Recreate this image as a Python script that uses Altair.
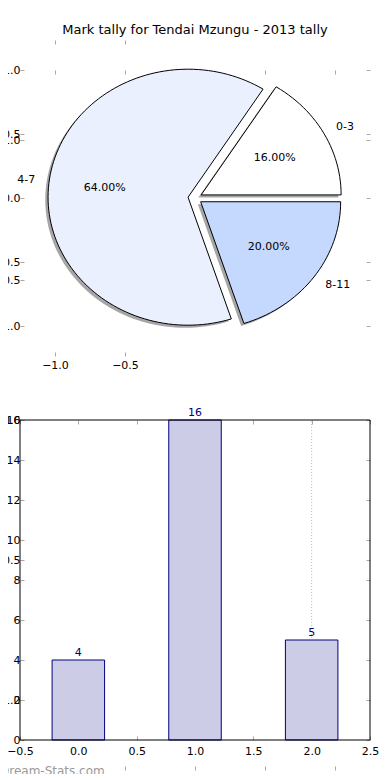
import math
import altair as alt
import pandas as pd

# ---------------- data ----------------
TITLE = "Mark tally for Tendai Mzungu - 2013 tally"
slice_labels = ["0-3", "4-7", "8-11"]
slice_values = [4, 16, 5]
slice_colors = ["#ffffff", "#eaf0fd", "#c5d8fe"]
slice_explode = [0.05, 0.05, 0.05]

bar_positions = [0, 1, 2]
bar_values = [4, 16, 5]
bar_text = ["4", "16", "5"]

pie_x_ticks = [-1.0, -0.5]
pie_y_ticks = [1.0, 0.5, 0.0, -0.5, -1.0]
ghost_x_ticks = [-1.0, -0.5, 0.0, 0.5, 1.0]
ghost_y_ticks = [1.0, 0.5, 0.0, -0.5, -1.0]
bar_x_ticks = [-0.5, 0.0, 0.5, 1.0, 1.5, 2.0, 2.5]
bar_y_ticks = [0, 2, 4, 6, 8, 10, 12, 14, 16]
bar_grid_x = [2.0]
watermark = ["Dream-Stats.com"]

# ---------------- geometry from the values ----------------
W, H = 350, 690
BAR_W = 0.45
total = sum(slice_values)
wedge_rows, shadow_rows, label_rows = [], [], []
start = 0.0
for lab, val, ex in zip(slice_labels, slice_values, slice_explode):
    span = 360.0 * val / total
    mid = math.radians(start + span / 2)
    cx, cy = ex * math.cos(mid), ex * math.sin(mid)
    n = max(int(span / 2), 4)
    pts = [(cx, cy)]
    for k in range(n + 1):
        a = math.radians(start + span * k / n)
        pts.append((cx + math.cos(a), cy + math.sin(a)))
    pts.append((cx, cy))
    for i, (px, py) in enumerate(pts):
        wedge_rows.append(dict(slice=lab, i=i, x=px, y=py))
        shadow_rows.append(dict(slice=lab, i=i, x=px - 0.02, y=py - 0.02))
    label_rows.append(dict(
        slice=lab,
        lx=cx + 1.1 * math.cos(mid), ly=cy + 1.1 * math.sin(mid),
        px=cx + 0.6 * math.cos(mid), py=cy + 0.6 * math.sin(mid),
        pct=f"{100 * val / total:.2f}%"))
    start += span

wedge_df = pd.DataFrame(wedge_rows)
shadow_df = pd.DataFrame(shadow_rows)
lab_df = pd.DataFrame(label_rows)
lab_right = lab_df[lab_df.lx >= 0]
lab_left = lab_df[lab_df.lx < 0]

ghost_df = pd.DataFrame({"gx": ghost_x_ticks, "gy": ghost_y_ticks})
pie_tick_df = pd.DataFrame({"v": pie_y_ticks})
bar_df = pd.DataFrame({"pos": bar_positions, "value": bar_values, "txt": bar_text})
bar_df["x0"] = bar_df.pos - BAR_W / 2
bar_df["x1"] = bar_df.pos + BAR_W / 2
frame_df = pd.DataFrame({"x0": [bar_x_ticks[0]], "x1": [bar_x_ticks[-1]],
                         "y0": [bar_y_ticks[0]], "y1": [bar_y_ticks[-1]]})
grid_df = pd.DataFrame({"x": bar_grid_x, "y0": [bar_y_ticks[0]], "y1": [bar_y_ticks[-1]]})
wm_df = pd.DataFrame({"t": watermark})

# ---------------- scales / axes ----------------
def sc(domain, rng):
    return alt.Scale(domain=domain, range=rng, zero=False, nice=False)

PX = ([-1.25, 1.25], [0, W])
PY = ([-1, 1], [256, 0])
GY = ([-1, 1], [630, 70])
BX = ([-0.5, 2.5], [0, W])
BY = ([0, 16], [670, 350])

TICK = "#a8a8a8"
FONT = "DejaVu Sans"
LEFT_PAD = 0


def axis(orient, values, offset, labels=False, fmt=".1f", pad=4):
    kw = dict(orient=orient, values=values, offset=offset, labels=labels, format=fmt,
              tickSize=4, tickColor=TICK, tickWidth=1, domain=False, grid=False, title=None)
    if labels:
        kw.update(labelFont=FONT, labelFontSize=11, labelColor="black", labelPadding=pad,
                  labelOverlap=False, labelFlush=False)
    return alt.Axis(**kw)

# ---------------- layers ----------------
ghostA = alt.Chart(ghost_df).mark_point(opacity=0).encode(
    x=alt.X("gx:Q", scale=sc(*PX), axis=axis("top", ghost_x_ticks, -4)),
    y=alt.Y("gy:Q", scale=sc(*GY), axis=axis("left", ghost_y_ticks, -4, labels=True, pad=LEFT_PAD)),
)
ghostB = alt.Chart(ghost_df).mark_point(opacity=0).encode(
    x=alt.X("gx:Q", scale=sc(*PX), axis=axis("bottom", ghost_x_ticks[1:], 6)),
    y=alt.Y("gy:Q", scale=sc(*GY), axis=axis("right", ghost_y_ticks, -4)),
)

pie_shadow = alt.Chart(shadow_df).mark_line(fill="#4d4d4d", fillOpacity=0.5, strokeWidth=0).encode(
    x=alt.X("x:Q", scale=sc(*PX), axis=None),
    y=alt.Y("y:Q", scale=sc(*PY), axis=None),
    detail="slice:N",
    order="i:Q",
)
pie_wedges = alt.Chart(wedge_df).mark_line(stroke="black", strokeWidth=1).encode(
    x=alt.X("x:Q", scale=sc(*PX), axis=axis("bottom", pie_x_ticks, -408, labels=True, pad=3)),
    y=alt.Y("y:Q", scale=sc(*PY), axis=axis("left", pie_y_ticks, -4, labels=True, pad=LEFT_PAD)),
    fill=alt.Fill("slice:N", scale=alt.Scale(domain=slice_labels, range=slice_colors), legend=None),
    detail="slice:N",
    order="i:Q",
)
pie_ticks = alt.Chart(pie_tick_df).mark_point(opacity=0).encode(
    x=alt.X("v:Q", scale=sc(*PX), axis=axis("top", pie_x_ticks, 26)),
    y=alt.Y("v:Q", scale=sc(*PY), axis=axis("right", pie_y_ticks, -4)),
)
txt = dict(font=FONT, fontSize=11, color="black", baseline="middle")
pie_lab_r = alt.Chart(lab_right).mark_text(align="left", **txt).encode(
    x=alt.X("lx:Q", scale=sc(*PX), axis=None), y=alt.Y("ly:Q", scale=sc(*PY), axis=None), text="slice:N")
pie_lab_l = alt.Chart(lab_left).mark_text(align="right", **txt).encode(
    x=alt.X("lx:Q", scale=sc(*PX), axis=None), y=alt.Y("ly:Q", scale=sc(*PY), axis=None), text="slice:N")
pie_pct = alt.Chart(lab_df).mark_text(align="center", **txt).encode(
    x=alt.X("px:Q", scale=sc(*PX), axis=None), y=alt.Y("py:Q", scale=sc(*PY), axis=None), text="pct:N")

bar_grid = alt.Chart(grid_df).mark_rule(color="#b8b8b8", strokeDash=[1, 2], strokeWidth=1).encode(
    x=alt.X("x:Q", scale=sc(*BX), axis=None),
    y=alt.Y("y0:Q", scale=sc(*BY), axis=None), y2="y1:Q")
bars = alt.Chart(bar_df).mark_rect(fill="#ccccE6", stroke="#000080", strokeWidth=1).encode(
    x=alt.X("x0:Q", scale=sc(*BX), axis=axis("bottom", bar_x_ticks, -24, labels=True, pad=5)),
    x2="x1:Q",
    y=alt.Y("value:Q", scale=sc(*BY), axis=axis("left", bar_y_ticks, -4, labels=True, fmt="d", pad=LEFT_PAD)),
    y2=alt.datum(0),
)
bar_frame = alt.Chart(frame_df).mark_rect(fillOpacity=0, stroke="black", strokeWidth=1).encode(
    x=alt.X("x0:Q", scale=sc(*BX), axis=axis("top", bar_x_ticks, -354)),
    x2="x1:Q",
    y=alt.Y("y0:Q", scale=sc(*BY), axis=axis("right", bar_y_ticks, -4)),
    y2="y1:Q",
)
bar_labels = alt.Chart(bar_df).mark_text(font=FONT, fontSize=11, color="#000080", baseline="bottom", dy=-2).encode(
    x=alt.X("pos:Q", scale=sc(*BX), axis=None),
    y=alt.Y("value:Q", scale=sc(*BY), axis=None),
    text="txt:N",
)
wm = alt.Chart(wm_df).mark_text(font=FONT, fontSize=12, color="#9a9a9a", align="left", baseline="middle").encode(
    x=alt.value(-20), y=alt.value(701), text="t:N")

chart = alt.layer(
    ghostA, ghostB, pie_ticks, pie_shadow, pie_wedges, pie_lab_r, pie_lab_l, pie_pct,
    bar_grid, bars, bar_frame, bar_labels, wm,
).resolve_scale(x="independent", y="independent").properties(
    width=W, height=H,
    title=alt.TitleParams(TITLE, font=FONT, fontSize=13, fontWeight="normal", color="black",
                          anchor="middle", baseline="alphabetic", offset=-7),
    padding={"left": 12, "top": 62, "right": 12, "bottom": 14},
    autosize=alt.AutoSizeParams(type="none"),
).configure_view(stroke=None)

chart.save("out.html", embed_options={"renderer": "svg", "actions": False})
